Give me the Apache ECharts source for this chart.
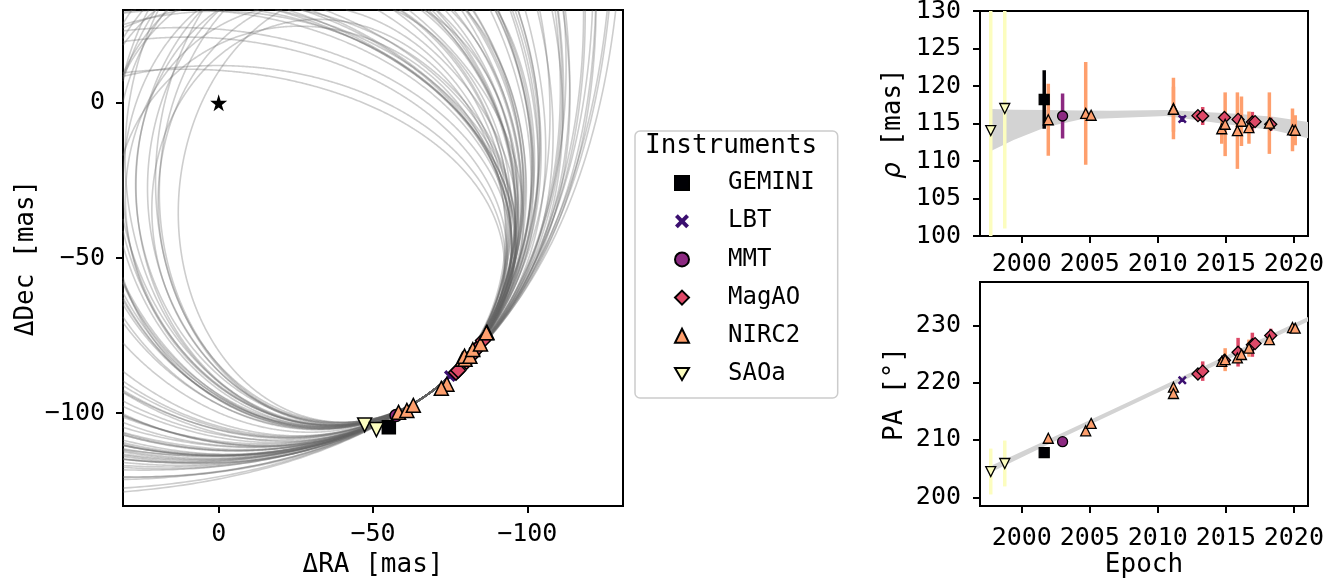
<!DOCTYPE html>
<html>
<head>
<meta charset="utf-8">
<script src="https://cdn.jsdelivr.net/npm/echarts@6/dist/echarts.min.js"></script>
<style>
html, body { margin: 0; padding: 0; background: #fff; }
#main { width: 1337px; height: 584px; }
</style>
</head>
<body>
<div id="main"></div>
<script>
var FONT = 'DejaVu Sans Mono';

// legend order
var instruments = ['GEMINI', 'LBT', 'MMT', 'MagAO', 'NIRC2', 'SAOa'];

// rows: [epoch, rho (mas), rho err, PA (deg), PA err]
var obsGEMINI = [[2001.65, 118.2, 3.9, 207.8, 0.6]];
var obsLBT = [[2011.8, 115.6, 0.4, 220.4, 0.2]];
var obsMMT = [[2003.0, 116.0, 3.0, 209.7, 0.6]];
var obsMagAO = [
    [2012.95, 116.05, 0.5, 221.5, 0.5],
    [2013.3, 116.0, 1.2, 222.0, 1.7],
    [2014.9, 115.8, 0.6, 223.9, 0.8],
    [2015.9, 115.55, 0.8, 225.3, 2.5],
    [2016.95, 115.2, 1.35, 226.6, 2.1],
    [2017.15, 115.25, 0.6, 226.8, 0.8],
    [2018.3, 114.9, 0.9, 228.2, 1.2]
];
var obsNIRC2 = [
    [2001.95, 115.5, 4.8, 210.3, 0.3],
    [2004.7, 116.35, 6.85, 211.6, 0.3],
    [2005.1, 116.1, 0.5, 212.9, 0.3],
    [2011.15, 117.0, 4.1, 219.2, 0.3],
    [2011.15, 116.9, 3.0, 218.1, 0.3],
    [2014.7, 114.3, 2.0, 223.7, 0.4],
    [2014.95, 114.9, 4.25, 224.0, 2.0],
    [2015.85, 114.05, 5.1, 224.3, 0.8],
    [2016.15, 115.3, 3.3, 224.9, 0.8],
    [2016.7, 114.45, 2.15, 226.0, 1.5],
    [2018.2, 115.05, 4.1, 227.5, 0.5],
    [2019.9, 114.15, 2.85, 229.6, 0.4],
    [2020.1, 114.1, 2.0, 229.5, 0.4]
];
var obsSAOa = [
    [1997.72, 114.05, 16, 204.5, 4.0],
    [1998.75, 117.0, 16, 205.9, 4.0]
];

// spread of the orbit posterior in the two right panels
var rhoBandEpoch = [1997.7, 1999.4, 2001.8, 2004.3, 2006.5, 2010.6, 2015.5, 2018.5, 2021.1];
var rhoBandHigh = [116.95, 116.85, 116.8, 116.75, 116.7, 116.8, 116.35, 115.9, 115.2];
var rhoBandLow = [111.3, 112.8, 114.55, 115.55, 115.7, 116.0, 114.8, 114.1, 113.0];
var paBandEpoch = [1997.7, 2003, 2008, 2012, 2016, 2021.1];
var paBandHigh = [205.45, 211.25, 216.8, 221.3, 225.8, 231.5];
var paBandLow = [204.35, 210.45, 216.0, 220.5, 225.0, 230.7];

// tick labels
var raTicks = [0, -50, -100];
var decTicks = [0, -50, -100];
var rhoTicks = [100, 105, 110, 115, 120, 125, 130];
var paTicks = [200, 210, 220, 230];
var epochTicks = [2000, 2005, 2010, 2015, 2020];

// sampled orbits, each one an apparent ellipse through the observed arc:
// [curvature at the arc (1/mas), depth towards the star (mas), skew along the arc (mas)]
// small orbits turning up the left side
var orbitsLeft = [
    [0.0190, 64, 6], [0.0185, 66, 10], [0.0180, 68, 4], [0.0176, 70, 12],
    [0.0172, 72, 8], [0.0168, 70, 16], [0.0165, 75, 6], [0.0162, 78, 12],
    [0.0158, 80, 18], [0.0155, 84, 8], [0.0170, 66, 0], [0.0160, 74, 20],
    [0.0152, 88, 14], [0.0178, 64, 14], [0.0150, 92, 20], [0.0175, 76, 2],
    [0.0163, 82, 4], [0.0186, 70, 8], [0.0172, 76, 10], [0.0168, 78, 6],
    [0.0166, 72, 12], [0.0174, 74, 4], [0.0160, 80, 8], [0.0170, 80, 14]
];
// orbits running back over the star
var orbitsTop = [
    [0.0130, 80, -20], [0.0125, 84, -25], [0.0120, 86, -30], [0.0118, 90, -28],
    [0.0115, 85, -35], [0.0113, 88, -31], [0.0110, 95, -40], [0.0128, 78, -15],
    [0.0122, 92, -22], [0.0108, 100, -45], [0.0116, 96, -36], [0.0124, 82, -32],
    [0.0112, 105, -30], [0.0119, 80, -40], [0.0125, 75, -30], [0.0127, 88, -26]
];
var orbitsMid = [
    [0.0140, 100, 0], [0.0135, 110, 10], [0.0138, 95, -10], [0.0132, 120, 5],
    [0.0145, 95, 10], [0.0128, 130, -10], [0.0142, 105, -5], [0.0130, 140, 15]
];
// wide orbits leaving to the north-west
var orbitsWide = [
    [0.0120, 160, -10], [0.0118, 180, 20], [0.0116, 200, -40], [0.0114, 170, 35],
    [0.0112, 220, 0], [0.0110, 260, -60], [0.0108, 240, 40], [0.0106, 300, -20],
    [0.0104, 280, 60], [0.0102, 350, -90], [0.0100, 320, 10], [0.0098, 400, -60],
    [0.0096, 380, 50], [0.0094, 450, -130], [0.0092, 420, 0], [0.0090, 500, -100],
    [0.0088, 480, 40], [0.0086, 550, -170], [0.0084, 600, -60], [0.0082, 650, -200]
];

// point of the arc shared by all tracks
var anchorRho = 115.8, anchorPA = 216.5;

// sky panel limits (mas)
var raMin = -131, raMax = 31, decMin = -129.9, decMax = 29.9;

var instColor = {
    GEMINI: '#000004', LBT: '#3b0f70', MMT: '#8c2981',
    MagAO: '#de4968', NIRC2: '#fe9f6d', SAOa: '#fcfdbf'
};
var xPath = 'path://M2,0 L5,3 L8,0 L10,2 L7,5 L10,8 L8,10 L5,7 L2,10 L0,8 L3,5 L0,2 Z';
var downTri = 'path://M0,0 L10,0 L5,8.66 Z';
var starPath = 'path://M50,0 L61,35 L98,35 L68,57 L79,91 L50,70 L21,91 L32,57 L2,35 L39,35 Z';
var instSymbol = {
    GEMINI: 'rect', LBT: xPath, MMT: 'circle',
    MagAO: 'diamond', NIRC2: 'triangle', SAOa: downTri
};
var obsByInst = {
    GEMINI: obsGEMINI, LBT: obsLBT, MMT: obsMMT,
    MagAO: obsMagAO, NIRC2: obsNIRC2, SAOa: obsSAOa
};
var skySize = { GEMINI: 13, LBT: 12, MMT: 12, MagAO: 15, NIRC2: 14, SAOa: 14 };
var panelSize = { GEMINI: 10, LBT: 9, MMT: 10, MagAO: 12, NIRC2: 10, SAOa: 10 };

var d2r = Math.PI / 180;
var pa0 = anchorPA * d2r;
var P0 = [anchorRho * Math.sin(pa0), anchorRho * Math.cos(pa0)];
var Tdir = [Math.cos(pa0), -Math.sin(pa0)];
var Ndir = [-Math.sin(pa0), -Math.cos(pa0)];

// Liang-Barsky clip of segment a-b to the sky panel
function clipSeg(a, b) {
    var dx = b[0] - a[0], dy = b[1] - a[1];
    var p = [-dx, dx, -dy, dy];
    var q = [a[0] - raMin, raMax - a[0], a[1] - decMin, decMax - a[1]];
    var u0 = 0, u1 = 1;
    for (var i = 0; i < 4; i++) {
        if (p[i] === 0) {
            if (q[i] < 0) return null;
        } else {
            var r = q[i] / p[i];
            if (p[i] < 0) { if (r > u1) return null; if (r > u0) u0 = r; }
            else { if (r < u0) return null; if (r < u1) u1 = r; }
        }
    }
    return [[a[0] + u0 * dx, a[1] + u0 * dy], [a[0] + u1 * dx, a[1] + u1 * dy]];
}

// pieces of one orbit that lie inside the sky panel
function orbitPieces(o) {
    var k = o[0], d = o[1], s = o[2];
    var v = Math.sqrt(d / k);
    var pts = [];
    for (var i = 0; i <= 1440; i++) {
        var t = i * Math.PI / 720;
        var n = d * (1 - Math.cos(t));
        var tau = s * (1 - Math.cos(t)) + v * Math.sin(t);
        pts.push([P0[0] + n * Ndir[0] + tau * Tdir[0], P0[1] + n * Ndir[1] + tau * Tdir[1]]);
    }
    var pieces = [];
    var cur = null;
    for (var j = 1; j < pts.length; j++) {
        var seg = clipSeg(pts[j - 1], pts[j]);
        if (!seg) { cur = null; continue; }
        var last = cur && cur[cur.length - 1];
        if (!last || last[0] !== seg[0][0] || last[1] !== seg[0][1]) {
            cur = [seg[0]];
            pieces.push(cur);
        }
        cur.push(seg[1]);
    }
    return pieces;
}

var orbitPieceList = [];
orbitsLeft.concat(orbitsTop, orbitsMid, orbitsWide).forEach(function (o) {
    orbitPieces(o).forEach(function (p) {
        if (p.length > 1) orbitPieceList.push({ coords: p });
    });
});

function minusSign(v) {
    return String(v).replace('-', '\u2212');
}
function plain(v) {
    return String(v);
}

function bandRender(epochs, low, high) {
    return function (params, api) {
        if (params.dataIndex !== 0) return null;
        var pts = [];
        for (var i = 0; i < epochs.length; i++) pts.push(api.coord([epochs[i], high[i]]));
        for (var j = epochs.length - 1; j >= 0; j--) pts.push(api.coord([epochs[j], low[j]]));
        return { type: 'polygon', shape: { points: pts }, style: { fill: '#d3d3d3' } };
    };
}

function errRender(color) {
    return function (params, api) {
        var p1 = api.coord([api.value(0), api.value(1) - api.value(2)]);
        var p2 = api.coord([api.value(0), api.value(1) + api.value(2)]);
        return {
            type: 'line',
            shape: { x1: p1[0], y1: p1[1], x2: p2[0], y2: p2[1] },
            style: { stroke: color, lineWidth: 3.5 }
        };
    };
}

var series = [];

// orbit tracks
series.push({
    name: 'orbits',
    type: 'lines',
    coordinateSystem: 'cartesian2d',
    xAxisIndex: 0, yAxisIndex: 0,
    polyline: true,
    silent: true,
    data: orbitPieceList,
    lineStyle: { color: 'rgb(100,100,100)', opacity: 0.32, width: 1.6, curveness: 0 },
    z: 1
});

// star
series.push({
    name: 'star',
    type: 'scatter',
    xAxisIndex: 0, yAxisIndex: 0,
    data: [[0, 0]],
    symbol: starPath,
    symbolSize: 17,
    itemStyle: { color: '#000', opacity: 1 },
    z: 3
});

// positions on sky
instruments.forEach(function (name) {
    var lbt = name === 'LBT';
    series.push({
        name: name,
        type: 'scatter',
        xAxisIndex: 0, yAxisIndex: 0,
        data: obsByInst[name].map(function (r) {
            return [r[1] * Math.sin(r[3] * d2r), r[1] * Math.cos(r[3] * d2r)];
        }),
        symbol: instSymbol[name],
        symbolSize: skySize[name],
        itemStyle: {
            color: instColor[name],
            borderColor: lbt ? instColor[name] : '#000',
            borderWidth: lbt ? 0 : 1.5,
            opacity: 1
        },
        z: 4
    });
});

// bands
series.push({
    name: 'rhoBand', type: 'custom', xAxisIndex: 1, yAxisIndex: 1, clip: true,
    data: rhoBandEpoch.map(function (e, i) { return [e, rhoBandLow[i], rhoBandHigh[i]]; }),
    renderItem: bandRender(rhoBandEpoch, rhoBandLow, rhoBandHigh), silent: true, z: 1
});
series.push({
    name: 'paBand', type: 'custom', xAxisIndex: 2, yAxisIndex: 2, clip: true,
    data: paBandEpoch.map(function (e, i) { return [e, paBandLow[i], paBandHigh[i]]; }),
    renderItem: bandRender(paBandEpoch, paBandLow, paBandHigh), silent: true, z: 1
});

// error bars
instruments.forEach(function (name) {
    var rows = obsByInst[name];
    series.push({
        name: name + ' rho err', type: 'custom', xAxisIndex: 1, yAxisIndex: 1, clip: true,
        data: rows.map(function (r) { return [r[0], r[1], r[2]]; }),
        renderItem: errRender(instColor[name]), silent: true, z: 2
    });
    series.push({
        name: name + ' pa err', type: 'custom', xAxisIndex: 2, yAxisIndex: 2, clip: true,
        data: rows.map(function (r) { return [r[0], r[3], r[4]]; }),
        renderItem: errRender(instColor[name]), silent: true, z: 2
    });
});

// markers in the epoch panels
instruments.forEach(function (name) {
    var lbt = name === 'LBT';
    var style = {
        color: instColor[name],
        borderColor: lbt ? instColor[name] : '#000',
        borderWidth: lbt ? 0 : 1.3,
        opacity: 1
    };
    series.push({
        name: name, type: 'scatter', xAxisIndex: 1, yAxisIndex: 1,
        data: obsByInst[name].map(function (r) { return [r[0], r[1]]; }),
        symbol: instSymbol[name], symbolSize: panelSize[name], itemStyle: style, z: 4
    });
    series.push({
        name: name, type: 'scatter', xAxisIndex: 2, yAxisIndex: 2,
        data: obsByInst[name].map(function (r) { return [r[0], r[3]]; }),
        symbol: instSymbol[name], symbolSize: panelSize[name], itemStyle: style, z: 4
    });
});

var tickStyle = { show: true, length: 7, lineStyle: { color: '#000', width: 2 } };
var lineStyle = { show: true, onZero: false, lineStyle: { color: '#000', width: 2 } };
var labelStyle = { color: '#000', fontFamily: FONT, fontSize: 25, hideOverlap: false };
var nameStyle = { color: '#000', fontFamily: FONT, fontSize: 26 };

var option = {
    animation: false,
    backgroundColor: '#fff',
    title: {
        text: 'Instruments',
        left: 645, top: 133, padding: 0,
        textStyle: { color: '#000', fontFamily: FONT, fontSize: 26, fontWeight: 'normal' }
    },
    legend: {
        orient: 'vertical',
        left: 635, top: 131,
        padding: [40, 23, 12, 39],
        itemGap: 14.2,
        itemWidth: 14, itemHeight: 14,
        borderColor: '#cccccc', borderWidth: 1.5, borderRadius: 5,
        backgroundColor: '#fff',
        selectedMode: false,
        textStyle: { color: '#000', fontFamily: FONT, fontSize: 24, padding: [0, 0, 0, 34] },
        data: instruments.map(function (n) { return { name: n, icon: instSymbol[n] }; })
    },
    grid: [
        { left: 123, top: 10, width: 500, height: 496, show: true, borderColor: '#000', borderWidth: 2, outerBoundsMode: 'none' },
        { left: 980, top: 11, width: 328, height: 225, show: true, borderColor: '#000', borderWidth: 2, outerBoundsMode: 'none' },
        { left: 980, top: 282, width: 328, height: 224, show: true, borderColor: '#000', borderWidth: 2, outerBoundsMode: 'none' }
    ],
    xAxis: [
        {
            gridIndex: 0, type: 'value', min: raMin, max: raMax, inverse: true,
            name: '\u0394RA [mas]', nameLocation: 'middle', nameGap: 44, nameTextStyle: nameStyle,
            axisLine: lineStyle, splitLine: { show: false },
            axisTick: Object.assign({ customValues: raTicks }, tickStyle),
            axisLabel: Object.assign({ customValues: raTicks, margin: 16, formatter: minusSign }, labelStyle)
        },
        {
            gridIndex: 1, type: 'value', min: 1996.93, max: 2021.04,
            axisLine: lineStyle, splitLine: { show: false },
            axisTick: Object.assign({ customValues: epochTicks }, tickStyle),
            axisLabel: Object.assign({ customValues: epochTicks, margin: 16, formatter: plain }, labelStyle)
        },
        {
            gridIndex: 2, type: 'value', min: 1996.93, max: 2021.04,
            name: 'Epoch', nameLocation: 'middle', nameGap: 46, nameTextStyle: nameStyle,
            axisLine: lineStyle, splitLine: { show: false },
            axisTick: Object.assign({ customValues: epochTicks }, tickStyle),
            axisLabel: Object.assign({ customValues: epochTicks, margin: 20, formatter: plain }, labelStyle)
        }
    ],
    yAxis: [
        {
            gridIndex: 0, type: 'value', min: decMin, max: decMax,
            name: '\u0394Dec [mas]', nameLocation: 'middle', nameGap: 84, nameTextStyle: nameStyle,
            axisLine: lineStyle, splitLine: { show: false },
            axisTick: Object.assign({ customValues: decTicks }, tickStyle),
            axisLabel: Object.assign({ customValues: decTicks, margin: 18, formatter: minusSign }, labelStyle)
        },
        {
            gridIndex: 1, type: 'value', min: 100, max: 130,
            name: '{i|\u03c1} [mas]', nameLocation: 'middle', nameGap: 74,
            nameTextStyle: Object.assign({ rich: { i: { fontFamily: 'DejaVu Sans', fontStyle: 'italic', fontSize: 26, color: '#000' } } }, nameStyle),
            axisLine: lineStyle, splitLine: { show: false },
            axisTick: Object.assign({ customValues: rhoTicks }, tickStyle),
            axisLabel: Object.assign({ customValues: rhoTicks, margin: 19 }, labelStyle)
        },
        {
            gridIndex: 2, type: 'value', min: 198.49, max: 237.54,
            name: 'PA [\u00b0]', nameLocation: 'middle', nameGap: 72, nameTextStyle: nameStyle,
            axisLine: lineStyle, splitLine: { show: false },
            axisTick: Object.assign({ customValues: paTicks }, tickStyle),
            axisLabel: Object.assign({ customValues: paTicks, margin: 19 }, labelStyle)
        }
    ],
    series: series
};

var chart = echarts.init(document.getElementById('main'));
chart.setOption(option);
</script>
</body>
</html>
